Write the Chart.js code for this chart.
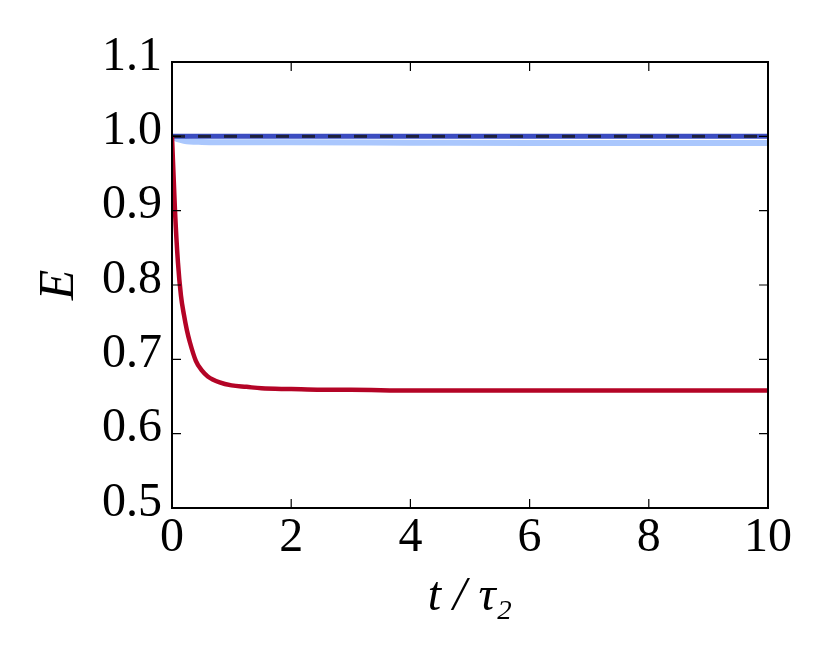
<!DOCTYPE html>
<html>
<head>
<meta charset="utf-8">
<script src="https://cdn.jsdelivr.net/npm/chart.js@4"></script>
<style>
  html, body { margin: 0; padding: 0; background: #fff; }
  #wrap { width: 830px; height: 668px; }
</style>
</head>
<body>
<div id="wrap"><canvas id="c" width="830" height="668"></canvas></div>
<script>
// ---- data ----
const tRed   = [0, 0.05, 0.1, 0.15, 0.2, 0.25, 0.3, 0.4, 0.5, 0.6, 0.8, 1.0, 1.25, 1.5, 2, 2.5, 3, 4, 5, 6, 7, 8, 9, 10];
const eRed   = [1.0, 0.90, 0.83, 0.786, 0.760, 0.739, 0.723, 0.698, 0.685, 0.677, 0.669, 0.665, 0.663, 0.661, 0.660, 0.659, 0.659, 0.658, 0.658, 0.658, 0.658, 0.658, 0.658, 0.658];

const tLight = [0, 0.05, 0.1, 0.2, 0.3, 0.5, 1, 2, 4, 6, 8, 10];
const eLight = [1.0, 0.998, 0.996, 0.994, 0.993, 0.9925, 0.992, 0.992, 0.9915, 0.991, 0.991, 0.991];

const tDark  = [0, 10];
const eDark  = [1.0, 1.0];

const tRef   = [0, 10];
const eRef   = [1.0, 1.0];

const xTickLabels = [0, 2, 4, 6, 8, 10];
const yTickLabels = [0.5, 0.6, 0.7, 0.8, 0.9, 1.0, 1.1];

const pts = (xs, ys) => xs.map((x, i) => ({ x: x, y: ys[i] }));

const FONT = "'Liberation Serif', 'DejaVu Serif', serif";

// frame + inward ticks on all four sides (matplotlib style)
const framePlugin = {
  id: 'frame',
  afterDraw(chart) {
    const { ctx, chartArea: a, scales } = chart;
    const L = 9;
    ctx.save();
    ctx.strokeStyle = '#000';
    ctx.lineWidth = 1.2;
    ctx.beginPath();
    xTickLabels.forEach(v => {
      const px = scales.x.getPixelForValue(v);
      ctx.moveTo(px, a.bottom); ctx.lineTo(px, a.bottom - L);
      ctx.moveTo(px, a.top); ctx.lineTo(px, a.top + L);
    });
    yTickLabels.forEach(v => {
      const py = scales.y.getPixelForValue(v);
      ctx.moveTo(a.left, py); ctx.lineTo(a.left + L, py);
      ctx.moveTo(a.right, py); ctx.lineTo(a.right - L, py);
    });
    ctx.stroke();
    ctx.lineWidth = 2;
    ctx.strokeRect(a.left, a.top, a.right - a.left, a.bottom - a.top);
    ctx.restore();
  }
};

new Chart(document.getElementById('c'), {
  type: 'line',
  data: {
    datasets: [
      { label: 'light', data: pts(tLight, eLight), borderColor: '#aac7fd', borderWidth: 6, order: 4,
        pointRadius: 0, fill: false, cubicInterpolationMode: 'monotone' },
      { label: 'dark', data: pts(tDark, eDark), borderColor: '#3b4cc0', borderWidth: 5, order: 3,
        pointRadius: 0, fill: false },
      { label: 'ref', data: pts(tRef, eRef), borderColor: 'rgba(25,25,35,0.85)', borderWidth: 3, order: 2,
        borderDash: [13, 13], pointRadius: 0, fill: false },
      { label: 'red', data: pts(tRed, eRed), borderColor: '#b40426', borderWidth: 4.5, order: 1,
        pointRadius: 0, fill: false, cubicInterpolationMode: 'monotone' }
    ]
  },
  options: {
    responsive: false,
    animation: false,
    layout: { padding: { left: 0, right: 62, top: 62, bottom: 0 } },
    plugins: { legend: { display: false }, tooltip: { enabled: false } },
    scales: {
      x: {
        type: 'linear', min: 0, max: 10,
        afterFit(s) { s.height = 160; },
        afterBuildTicks(s) { s.ticks = xTickLabels.map(v => ({ value: v })); },
        grid: { display: false, drawTicks: false },
        border: { display: false },
        ticks: { color: '#000', padding: 2, font: { family: FONT, size: 48 },
                 maxRotation: 0, autoSkip: false, callback: v => String(v) },
        title: { display: true, text: 't / τ₂', color: '#000',
                 font: { family: FONT, size: 48, style: 'italic' }, padding: { top: 0, bottom: 42 } }
      },
      y: {
        type: 'linear', min: 0.5, max: 1.1,
        afterFit(s) { s.width = 172; },
        afterBuildTicks(s) { s.ticks = yTickLabels.map(v => ({ value: v })); },
        grid: { display: false, drawTicks: false },
        border: { display: false },
        ticks: { color: '#000', padding: 10, labelOffset: -5, font: { family: FONT, size: 48 },
                 autoSkip: false, callback: v => Number(v).toFixed(1) },
        title: { display: true, text: 'E', color: '#000',
                 font: { family: FONT, size: 50, style: 'italic' }, padding: { top: 30, bottom: 0 } }
      }
    }
  },
  plugins: [framePlugin]
});
</script>
</body>
</html>
